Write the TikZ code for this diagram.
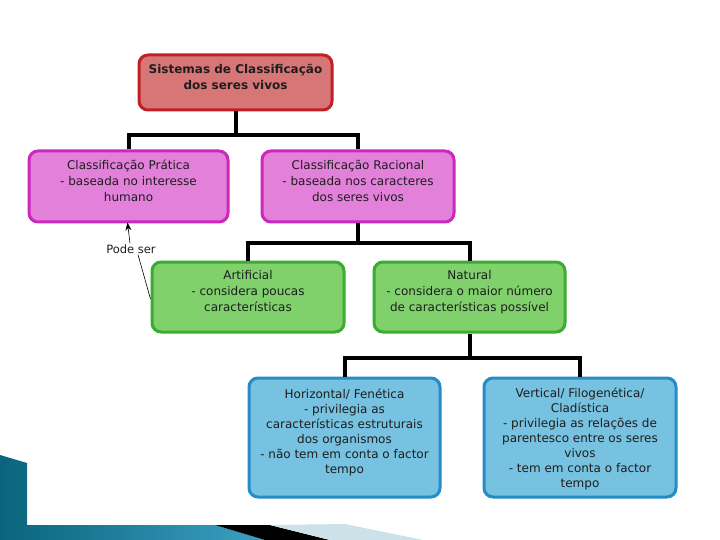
\documentclass[tikz,border=0pt]{standalone}
\usepackage{fontspec}
\setmainfont{DejaVu Sans}
\usetikzlibrary{arrows.meta}
\definecolor{redfill}{RGB}{214,118,118}
\definecolor{redline}{RGB}{192,32,38}
\definecolor{pinkfill}{RGB}{226,128,218}
\definecolor{pinkline}{RGB}{204,40,188}
\definecolor{greenfill}{RGB}{128,208,108}
\definecolor{greenline}{RGB}{58,172,48}
\definecolor{bluefill}{RGB}{118,194,224}
\definecolor{blueline}{RGB}{38,140,200}
\definecolor{txt}{RGB}{30,30,30}
\definecolor{teal1}{RGB}{10,100,125}
\definecolor{teal2}{RGB}{60,160,195}
\definecolor{lightb}{RGB}{205,225,232}
\tikzset{
  box/.style={draw, line width=3pt, rounded corners=9pt, align=center,
    text=txt, font=\fontsize{12}{16}\selectfont, inner sep=2pt, text depth=12pt},
  redbox/.style={box, fill=redfill, draw=redline, minimum width=193pt, minimum height=55pt},
  pinkbox/.style={box, fill=pinkfill, draw=pinkline, minimum height=71pt},
  greenbox/.style={box, fill=greenfill, draw=greenline, minimum height=70pt},
  bluebox/.style={box, fill=bluefill, draw=blueline, minimum height=119pt,
    font=\fontsize{12}{15}\selectfont},
  conn/.style={draw=black, line width=4pt},
  note/.style={font=\fontsize{11.5}{14}\selectfont, text=txt, inner sep=1pt},
}
\begin{document}
\begin{tikzpicture}[x=1pt,y=-1pt]
\useasboundingbox (0,0) rectangle (720,540);
\fill[white] (0,0) rectangle (720,540);
% decoration
\shade[left color=teal1, right color=teal2] (0,455) -- (27,463) -- (27,525) -- (215,525) -- (265,540) -- (0,540) -- cycle;
\fill[black] (215,525) -- (270,525) -- (330,540) -- (265,540) -- cycle;
\fill[lightb] (270,525) -- (345,524) -- (423,540) -- (330,540) -- cycle;
% nodes
\node[redbox] (sis) at (235.5,82.5) {\textbf{Sistemas de Classificação}\\\textbf{dos seres vivos}};
\node[pinkbox, minimum width=199pt] (pra) at (128.5,186.5) {Classificação Prática\\- baseada no interesse\\humano};
\node[pinkbox, minimum width=192pt] (rac) at (358,186.5) {Classificação Racional\\- baseada nos caracteres\\dos seres vivos};
\node[greenbox, minimum width=192pt] (art) at (248,297) {Artificial\\- considera poucas\\características};
\node[greenbox, minimum width=191pt] (nat) at (469.5,297) {Natural\\- considera o maior número\\de características possível};
\node[bluebox, minimum width=191pt] (hor) at (344.5,437.5) {Horizontal/ Fenética\\- privilegia as\\características estruturais\\dos organismos\\- não tem em conta o factor\\tempo};
\node[bluebox, minimum width=192pt, text depth=0pt] (ver) at (580,437.5) {Vertical/ Filogenética/\\Cladística\\- privilegia as relações de\\parentesco entre os seres\\vivos\\- tem em conta o factor\\tempo};
\node[note] (pode) at (131,249) {Pode ser};
% bus coordinates
\coordinate (b1) at (0,135);
\coordinate (b2) at (0,243);
\coordinate (b3) at (0,358);
% connectors
\draw[conn] (sis.south) -- (sis.south |- b1);
\draw[conn] (pra.north) |- (b1 -| sis.south) -| (rac.north);
\draw[conn] (rac.south) -- (rac.south |- b2);
\draw[conn] (art.north) |- (b2 -| rac.south) -| (nat.north);
\draw[conn] (nat.south) -- (nat.south |- b3);
\draw[conn] (hor.north) |- (b3 -| nat.south) -| (ver.north);
\draw[black, line width=0.6pt] ([yshift=-2pt]art.west) -- ([xshift=7pt]pode.south);
\draw[black, line width=0.6pt, -{Stealth[length=8pt,width=6pt]}] ([xshift=-1pt]pode.north) -- ([xshift=-1pt, yshift=1pt]pra.south);
\end{tikzpicture}
\end{document}
